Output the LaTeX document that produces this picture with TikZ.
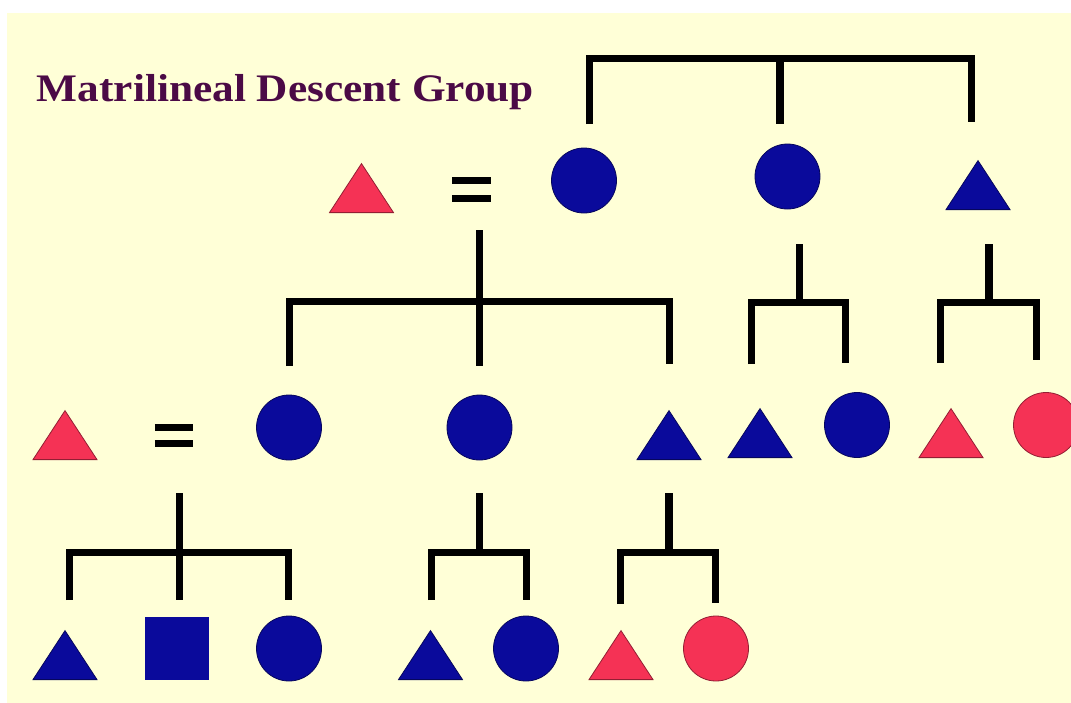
\documentclass[tikz,border=0pt]{standalone}
\usepackage{fontspec}
\usepackage{tikz}
\usetikzlibrary{shapes.geometric}
\newfontfamily\titlefont{Liberation Serif}
\definecolor{bgyellow}{RGB}{255,255,215}
\definecolor{kinblue}{RGB}{10,10,155}
\definecolor{kinred}{RGB}{245,50,85}
\definecolor{titlepurple}{RGB}{75,10,70}
\tikzset{
  kin/.style={line width=7pt, black},
  female/.style={circle, inner sep=0pt, minimum size=65pt, fill=#1, draw=#1!60!black, line width=0.8pt},
  female/.default=kinblue,
  male/.style={isosceles triangle, isosceles triangle stretches, shape border rotate=90, inner sep=0pt,
    minimum width=64pt, minimum height=49pt, anchor=south, fill=#1, draw=#1!60!black, line width=0.8pt},
  male/.default=kinblue,
  unknown/.style={rectangle, inner sep=0pt, minimum width=64pt, minimum height=63pt, fill=#1},
  unknown/.default=kinblue,
  marry/.style={rectangle, inner sep=0pt, minimum width=38pt, minimum height=#1},
  marry/.default=17pt
}

\begin{document}
\begin{tikzpicture}[x=1pt,y=-1pt]
\useasboundingbox (0,0) rectangle (1071,702);
\clip (0,0) rectangle (1071,702);
\fill[white] (0,0) rectangle (1071,702);
\fill[bgyellow] (7,13) rectangle (1072,703);

\node[anchor=base west, inner sep=0pt, text=titlepurple] (title) at (36.7,101.7)
  {\scalebox{1.11}[1]{\titlefont\bfseries\fontsize{39}{40}\selectfont Matrilineal Descent Group}};

\node[male=kinred] (h0) at (361.5,213) {};
\node[marry] (e0) at (471.5,189.5) {};
\node[female] (w0) at (584,180.5) {};
\node[female] (s1) at (787.5,176.5) {};
\node[male] (b1) at (978,210) {};

\node[male=kinred] (h1) at (65,460) {};
\node[marry=15pt] (e1) at (174,435.5) {};
\node[female] (d1) at (289,427.5) {};
\node[female] (d2) at (479.5,427.5) {};
\node[male] (n1) at (669,460) {};
\node[male] (s1a) at (760,458) {};
\node[female] (s1b) at (857,425) {};
\node[male=kinred] (b1a) at (951,458) {};
\node[female=kinred] (b1b) at (1046,425) {};

\node[male] (d1a) at (65,680) {};
\node[unknown] (d1b) at (177,648.5) {};
\node[female] (d1c) at (289,648.5) {};
\node[male] (d2a) at (430.5,680) {};
\node[female] (d2b) at (526,648.5) {};
\node[male=kinred] (n1a) at (621,680) {};
\node[female=kinred] (n1b) at (716,648.5) {};

\foreach \e in {e0,e1}
  \draw[kin] (\e.north west) -- (\e.north east) (\e.south west) -- (\e.south east);

\coordinate (j0) at (780,58);
\coordinate (j0l) at (589,124);
\coordinate (j0r) at (971,122);
\draw[kin] (j0l) |- (j0) -| (j0r);
\draw[kin, line width=8pt] (j0) -- (j0 |- j0l);

\coordinate (j1) at (479,301.5);
\coordinate (j1t) at (479,230);
\coordinate (j1l) at (289,366);
\coordinate (j1r) at (669,364);
\draw[kin] (j1l) |- (j1) -| (j1r);
\draw[kin] (j1t) -- (j1 |- j1l);

\coordinate (j2) at (799.5,302);
\coordinate (j2t) at (799.5,244);
\coordinate (j2l) at (751,364);
\coordinate (j2r) at (845.5,363);
\draw[kin] (j2l) |- (j2) -| (j2r);
\draw[kin] (j2t) -- (j2);

\coordinate (j3) at (989,302);
\coordinate (j3t) at (989,244);
\coordinate (j3l) at (940.5,363);
\coordinate (j3r) at (1036,360);
\draw[kin] (j3l) |- (j3) -| (j3r);
\draw[kin, line width=8pt] (j3t) -- (j3);

\coordinate (j4) at (179,552.5);
\coordinate (j4t) at (179,493);
\coordinate (j4l) at (69,600);
\coordinate (j4r) at (288,600);
\draw[kin] (j4l) |- (j4) -| (j4r);
\draw[kin] (j4t) -- (j4 |- j4l);

\coordinate (j5) at (479,552.5);
\coordinate (j5t) at (479,493);
\coordinate (j5l) at (431,600);
\coordinate (j5r) at (526,600);
\draw[kin] (j5l) |- (j5) -| (j5r);
\draw[kin] (j5t) -- (j5);

\coordinate (j6) at (669,552.5);
\coordinate (j6t) at (669,493);
\coordinate (j6l) at (620.5,604);
\coordinate (j6r) at (715,603);
\draw[kin] (j6l) |- (j6) -| (j6r);
\draw[kin, line width=8pt] (j6t) -- (j6);
\end{tikzpicture}
\end{document}
